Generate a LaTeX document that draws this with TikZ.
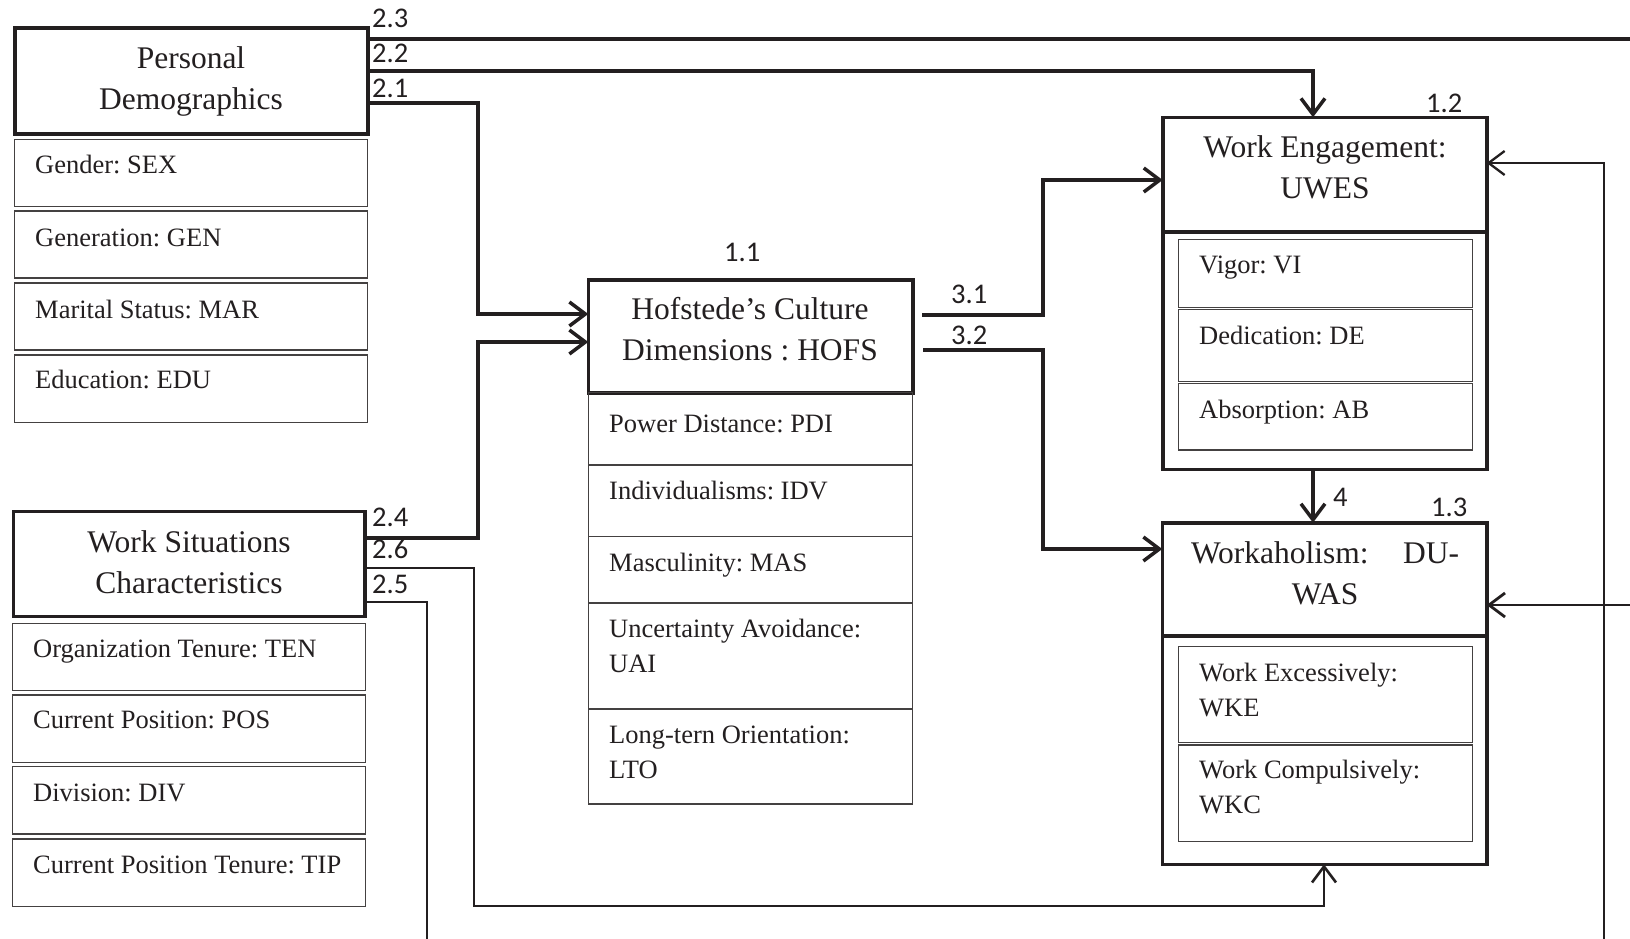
\documentclass[tikz,border=0pt]{standalone}
\usepackage{fontspec}
\setmainfont{Liberation Serif}
\newfontfamily\numfont{Carlito}
\usetikzlibrary{arrows.meta}
\definecolor{ink}{HTML}{231F20}
\frenchspacing
\newcommand\ctwo[2]{\vtop{\halign{\hfil##\hfil\cr#1\cr#2\cr}}}
\newcommand\ltwo[2]{\vtop{\hbox{#1}\hbox{#2}}}
\newcommand\wastext{\vtop{\halign{\hfil##\hfil\cr\hbox to 268pt{Workaholism:\hfill DU-}\cr WAS\cr}}}
\tikzset{
  hdrbox/.style={draw=ink, line width=3.6pt, outer sep=0pt, inner sep=0pt, anchor=north west},
  subbox/.style={draw=ink!85, line width=1.5pt, outer sep=0pt, inner sep=0pt, anchor=north west},
  htxt/.style={font=\fontsize{31.5}{41.5}\selectfont, text=ink, inner sep=0pt, anchor=base},
  stxt/.style={font=\fontsize{26.5}{35.5}\selectfont, text=ink, inner sep=0pt, anchor=base west},
  ntxt/.style={font=\numfont\fontsize{28.5}{28.5}\selectfont, text=ink, inner sep=0pt, anchor=base west},
  conn/.style={draw=ink, line width=3.5pt},
  arr/.style={-{Straight Barb[length=16pt,width=24pt]}}
}
\begin{document}
\begin{tikzpicture}[x=1pt,y=-1pt]
\path[fill=white,use as bounding box] (0,0) rectangle (1630,938);

% Personal Demographics
\node[hdrbox, minimum width=353pt, minimum height=106pt] (pd) at (15,28) {};
\node[subbox, minimum width=352.6pt, minimum height=67.4pt] (pd1) at (14.7,139.3) {};
\node[subbox, minimum width=352.6pt, minimum height=67pt] (pd2) at (14.7,211) {};
\node[subbox, minimum width=352.6pt, minimum height=67pt] (pd3) at (14.7,283) {};
\node[subbox, minimum width=352.6pt, minimum height=67.7pt] (pd4) at (14.7,355) {};
\node[htxt] (pdT) at (191,68) {\ctwo{Personal}{Demographics}};
\node[stxt] (pd1T) at (35,173) {Gender: SEX};
\node[stxt] (pd2T) at (35,246) {Generation: GEN};
\node[stxt] (pd3T) at (35,318) {Marital Status: MAR};
\node[stxt] (pd4T) at (35,388) {Education: EDU};

% Work Situations
\node[hdrbox, minimum width=351.5pt, minimum height=105pt] (ws) at (13.5,511.5) {};
\node[subbox, minimum width=352.6pt, minimum height=67pt] (ws1) at (12.7,623.3) {};
\node[subbox, minimum width=352.6pt, minimum height=67.3pt] (ws2) at (12.7,695) {};
\node[subbox, minimum width=352.6pt, minimum height=67.3pt] (ws3) at (12.7,766.7) {};
\node[subbox, minimum width=352.6pt, minimum height=67.3pt] (ws4) at (12.7,839) {};
\node[htxt] (wsT) at (189,552) {\ctwo{Work Situations}{Characteristics}};
\node[stxt] (ws1T) at (33,657) {Organization Tenure: TEN};
\node[stxt] (ws2T) at (33,728) {Current Position: POS};
\node[stxt] (ws3T) at (33,801) {Division: DIV};
\node[stxt] (ws4T) at (33,873) {Current Position Tenure: TIP};

% Hofstede
\node[hdrbox, minimum width=324.4pt, minimum height=112.7pt] (hf) at (588.3,280) {};
\node[subbox, minimum width=324.4pt, minimum height=72.3pt] (hf1) at (588.3,392.7) {};
\node[subbox, minimum width=324.4pt, minimum height=71.3pt] (hf2) at (588.3,465) {};
\node[subbox, minimum width=324.4pt, minimum height=66.7pt] (hf3) at (588.3,536.3) {};
\node[subbox, minimum width=324.4pt, minimum height=106pt] (hf4) at (588.3,603) {};
\node[subbox, minimum width=324.4pt, minimum height=95pt] (hf5) at (588.3,709) {};
\node[htxt] (hfT) at (750,319) {\ctwo{Hofstede’s Culture}{Dimensions : HOFS}};
\node[stxt] (hf1T) at (609,432) {Power Distance: PDI};
\node[stxt] (hf2T) at (609,499) {Individualisms: IDV};
\node[stxt] (hf3T) at (609,571) {Masculinity: MAS};
\node[stxt] (hf4T) at (609,637) {\ltwo{Uncertainty Avoidance:}{UAI}};
\node[stxt] (hf5T) at (609,743) {\ltwo{Long-tern Orientation:}{LTO}};

% Work Engagement
\node[hdrbox, minimum width=324pt, minimum height=114.4pt] (weH) at (1162.7,117.3) {};
\node[hdrbox, minimum width=324pt, minimum height=237.6pt] (weO) at (1162.7,231.7) {};
\node[subbox, minimum width=294pt, minimum height=68.4pt] (we1) at (1178.3,239.3) {};
\node[subbox, minimum width=294pt, minimum height=72pt] (we2) at (1178.3,309.5) {};
\node[subbox, minimum width=294pt, minimum height=66.5pt] (we3) at (1178.3,383.5) {};
\node[htxt] (weT) at (1325,157) {\ctwo{Work Engagement:}{UWES}};
\node[stxt] (we1T) at (1199,273) {Vigor: VI};
\node[stxt] (we2T) at (1199,344) {Dedication: DE};
\node[stxt] (we3T) at (1199,418) {Absorption: AB};

% Workaholism
\node[hdrbox, minimum width=324.4pt, minimum height=113.3pt] (wa) at (1162.3,522.7) {};
\node[hdrbox, minimum width=324.4pt, minimum height=228.3pt] (waO) at (1162.3,636) {};
\node[subbox, minimum width=294pt, minimum height=95.6pt] (wa1) at (1178.3,646.7) {};
\node[subbox, minimum width=294pt, minimum height=96.7pt] (wa2) at (1178.3,745) {};
\node[htxt] (waT) at (1325,563) {\wastext};
\node[stxt] (wa1T) at (1199,681) {\ltwo{Work Excessively:}{WKE}};
\node[stxt] (wa2T) at (1199,778) {\ltwo{Work Compulsively:}{WKC}};

% number labels
\node[ntxt] (n23) at (372,27) {2.3};
\node[ntxt] (n22) at (372,62) {2.2};
\node[ntxt] (n21) at (372,97) {2.1};
\node[ntxt] (n11) at (724,261) {1.1};
\node[ntxt] (n31) at (951,303) {3.1};
\node[ntxt] (n32) at (951,344) {3.2};
\node[ntxt] (n12) at (1426,112) {1.2};
\node[ntxt] (n4) at (1333,506) {4};
\node[ntxt] (n13) at (1431,516) {1.3};
\node[ntxt] (n24) at (372,526) {2.4};
\node[ntxt] (n26) at (372,558) {2.6};
\node[ntxt] (n25) at (372,593) {2.5};

% connectors
\coordinate (e23) at (1630,39);
\draw[conn] (pd.east |- 0,39) -- (e23);
\draw[conn,arr] (pd.east |- 0,71) -| (weH.north -| 1313,0);
\draw[conn,arr] (pd.east |- 0,103) -| (478,314) -- (hf.west |- 0,314);
\draw[conn,arr] (ws.east |- 0,538) -| (478,342) -- (hf.west |- 0,342);
\draw[conn,arr,line width=2.6pt] (ws.east |- 0,568) -| (474,906) -| (waO.south -| 1324,0);
\coordinate (b25) at (427,940);
\draw[conn,line width=2.5pt] (ws.east |- 0,602) -| (b25);
\coordinate (h31) at (922,315);
\coordinate (h32) at (923,350);
\draw[conn,arr] (h31) -| (1043,180) -- (weH.west |- 0,180);
\draw[conn,arr] (h32) -| (1043,549) -- (wa.west |- 0,549);
\draw[conn,arr] (weO.south -| 1313,0) -- (wa.north -| 1313,0);
\coordinate (b1604) at (1604,940);
\draw[conn,arr,line width=2.3pt] (b1604) |- (weH.east |- 0,163);
\coordinate (r605) at (1632,605);
\draw[conn,arr,line width=2.8pt] (r605) -- (wa.east |- 0,605);
\end{tikzpicture}
\end{document}
